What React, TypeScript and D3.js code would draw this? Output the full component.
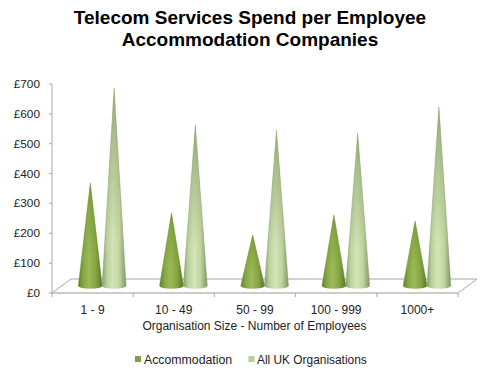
import React from "react";
import * as d3 from "d3";

const categories = ["1 - 9", "10 - 49", "50 - 99", "100 - 999", "1000+"];
const seriesNames = ["Accommodation", "All UK Organisations"];
const accommodation = [345, 245, 171, 238, 218];
const allUk = [663, 539, 522, 512, 600];
const yTicks = [0, 100, 200, 300, 400, 500, 600, 700];
const titleLines = ["Telecom Services Spend per Employee", "Accommodation Companies"];
const xTitle = "Organisation Size - Number of Employees";

const W = 500, H = 375;
const FONT = "'Liberation Sans', Arial, sans-serif";
const left = 52, right = 458, bottom = 293, top = 84;
const depthX = 19, depthY = 14;

const x = d3.scaleBand<string>().domain(categories).range([left, right]);
const xInner = d3.scaleBand<string>().domain(seriesNames).range([0, 47.6]);
const yAxis = d3.scaleLinear().domain([0, 700]).range([bottom, top]);
const coneBase = 286;
const coneH = d3.scaleLinear().domain([0, 700]).range([0, bottom - top]);

const stops = (c: string[]) => [
  [0, c[0]], [0.2, c[1]], [0.45, c[2]], [0.72, c[3]], [1, c[4]],
] as [number, string][];
const darkStops = stops(["#5f7f28", "#84a644", "#9cba56", "#86a644", "#587624"]);
const lightStops = stops(["#88a06c", "#bcd19c", "#d4e4b6", "#c0d4a0", "#7f9664"]);

function Cone({ cx, value, fill, shade, edge }: { cx: number; value: number; fill: string; shade: string; edge: string }) {
  const r = 12, ry = 2.8;
  const tip = coneBase - coneH(value);
  const d = `M${cx - r},${coneBase} L${cx},${tip} L${cx + r},${coneBase} A${r},${ry} 0 0 1 ${cx - r},${coneBase} Z`;
  return (
    <g>
      <path d={d} fill={fill} />
      <path d={d} fill={shade} />
      <path d={`M${cx - r},${coneBase} L${cx},${tip} L${cx + r},${coneBase}`} fill="none" stroke={edge} strokeWidth={0.9} strokeOpacity={0.45} />
    </g>
  );
}

export default function App() {
  const seriesData = [accommodation, allUk];
  const fills = ["url(#darkCone)", "url(#lightCone)"];
  const shades = ["url(#darkShade)", "url(#lightShade)"];
  const edges = ["#6a8a30", "#7f9664"];
  return (
    <svg width={W} height={H} viewBox={`0 0 ${W} ${H}`} style={{ position: "absolute", left: 0, top: 0, background: "#fff" }} fontFamily={FONT}>
      <defs>
        {[["darkCone", darkStops], ["lightCone", lightStops]].map(([id, s]) => (
          <linearGradient key={id as string} id={id as string} x1="0" x2="1" y1="0" y2="0">
            {(s as [number, string][]).map(([o, c]) => <stop key={o} offset={o} stopColor={c} />)}
          </linearGradient>
        ))}
        <linearGradient id="darkShade" x1="0" x2="0" y1="0" y2="1">
          <stop offset={0} stopColor="#6f9030" stopOpacity={0.7} />
          <stop offset={0.7} stopColor="#6f9030" stopOpacity={0} />
        </linearGradient>
        <linearGradient id="lightShade" x1="0" x2="0" y1="0" y2="1">
          <stop offset={0.05} stopColor="#8fa874" stopOpacity={0.85} />
          <stop offset={0.75} stopColor="#8fa874" stopOpacity={0} />
        </linearGradient>
      </defs>

      {titleLines.map((t, i) => (
        <text key={t} x={W / 2} y={24 + i * 22} textAnchor="middle" fontSize={19} fontWeight={700} fill="#000">{t}</text>
      ))}

      {/* floor */}
      <path d={`M${left},${bottom} L${left + depthX},${bottom - depthY} L${right + depthX},${bottom - depthY} L${right},${bottom}`} fill="none" stroke="#a8a8a8" strokeWidth={1} />

      {/* axes */}
      <line x1={left} x2={left} y1={top} y2={bottom} stroke="#a8a8a8" strokeWidth={1} />
      <line x1={left} x2={right} y1={bottom} y2={bottom} stroke="#999" strokeWidth={1.2} />
      {yTicks.map(v => (
        <g key={v}>
          <line x1={left - 3} x2={left} y1={yAxis(v)} y2={yAxis(v)} stroke="#a8a8a8" />
          <text x={40} y={yAxis(v) + 4} textAnchor="end" fontSize={11.8} fill="#222">£{v}</text>
        </g>
      ))}
      {[...categories.map(c => x(c)!), right].map((px, i) => (
        <line key={i} x1={px} x2={px} y1={bottom} y2={bottom + 4} stroke="#a8a8a8" />
      ))}
      {categories.map(c => (
        <text key={c} x={x(c)! + x.bandwidth() / 2} y={313.5} textAnchor="middle" fontSize={12} fill="#222">{c}</text>
      ))}
      <text x={254.5} y={330} textAnchor="middle" fontSize={12} fill="#222">{xTitle}</text>

      {/* cones */}
      {categories.map((c, i) => seriesNames.map((s, k) => (
        <Cone key={c + s}
          cx={x(c)! + x.bandwidth() / 2 - 14.2 + xInner(s)! + xInner.bandwidth() / 2}
          value={seriesData[k][i]} fill={fills[k]} shade={shades[k]} edge={edges[k]} />
      )))}

      {/* legend */}
      <rect x={135} y={356} width={6} height={6} fill="#7f9f45" />
      <text x={144} y={364} fontSize={12.3} fill="#222">{seriesNames[0]}</text>
      <rect x={248.5} y={356} width={6} height={6} fill="#b9cf9a" />
      <text x={257} y={364} fontSize={11.9} fill="#222">{seriesNames[1]}</text>
    </svg>
  );
}
